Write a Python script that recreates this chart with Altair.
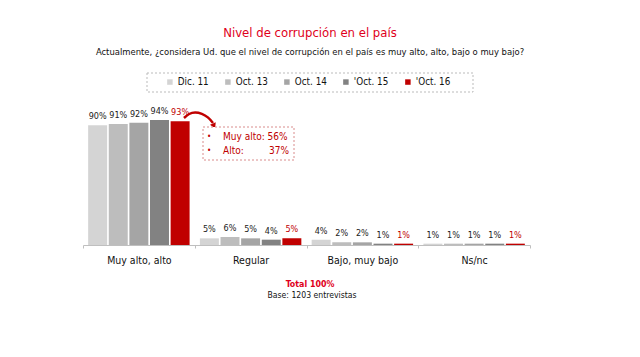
import altair as alt
import pandas as pd

groups = ["Muy alto, alto", "Regular", "Bajo, muy bajo", "Ns/nc"]
series = ["Dic. 11", "Oct. 13", "Oct. 14", "'Oct. 15", "'Oct. 16"]
colors = ["#D4D4D4", "#BDBDBD", "#A5A5A5", "#828282", "#C00000"]
values = {
    "Dic. 11": [90, 5, 4, 1],
    "Oct. 13": [91, 6, 2, 1],
    "Oct. 14": [92, 5, 2, 1],
    "'Oct. 15": [94, 4, 1, 1],
    "'Oct. 16": [93, 5, 1, 1],
}
title_text = "Nivel de corrupción en el país"
subtitle_text = "Actualmente, ¿considera Ud. que el nivel de corrupción en el país es muy alto, alto, bajo o muy bajo?"
note_lines = ["Muy alto: 56%", "Alto:"]
note_alto_val = "37%"
footer1 = "Total 100%"
footer2 = "Base:  1203 entrevistas"

# arrow path (annotation, pixel space)
arrow_x = [101, 106, 112, 119, 125, 130]
arrow_y = [6, 1.5, 0, 1.5, 5, 11]

FONT = "DejaVu Sans Condensed"
RED = "#C00000"

rows = []
for s in series:
    for g, v in zip(groups, values[s]):
        rows.append({"grupo": g, "serie": s, "valor": v, "label": f"{v}%"})
df = pd.DataFrame(rows)

base = alt.Chart(df).encode(
    x=alt.X("grupo:N", sort=groups,
            scale=alt.Scale(paddingInner=0, paddingOuter=0),
            axis=alt.Axis(title=None, labelAngle=0, tickBand="extent",
                          domainColor="#BFBFBF", tickColor="#BFBFBF", tickSize=3,
                          labelFontSize=10.5, labelFont=FONT, labelColor="#111",
                          labelPadding=7, grid=False)),
    xOffset=alt.XOffset("serie:N", sort=series,
                        scale=alt.Scale(paddingInner=0.08, paddingOuter=0.25)),
    y=alt.Y("valor:Q", scale=alt.Scale(domain=[0, 100]), axis=None),
)

bars = base.mark_bar().encode(
    color=alt.Color("serie:N", sort=series,
                    scale=alt.Scale(domain=series, range=colors),
                    legend=alt.Legend(title=None, orient="none", direction="horizontal",
                                      legendX=82, legendY=-35,
                                      symbolType="square", symbolSize=30,
                                      symbolStrokeWidth=0, labelFont=FONT,
                                      labelFontSize=9.8, labelColor="#111",
                                      labelOffset=3, columnPadding=14, padding=0))
)

labels = base.mark_text(baseline="bottom", dy=-4, font=FONT, fontSize=9).encode(
    text="label:N",
    color=alt.condition(alt.datum.serie == "'Oct. 16", alt.value(RED), alt.value("#222")),
)

arrow_df = pd.DataFrame({"x": arrow_x, "y": arrow_y, "o": list(range(len(arrow_x)))})
arrow = alt.Chart(arrow_df).mark_line(color=RED, strokeWidth=2.5, interpolate="basis").encode(
    x=alt.X("x:Q", scale=None, axis=None),
    y=alt.Y("y:Q", scale=None, axis=None),
    order="o:Q",
)
head = alt.Chart(pd.DataFrame({"x": [131], "y": [14]})).mark_point(
    shape="triangle-down", filled=True, color=RED, size=40, opacity=1, angle=335
).encode(x=alt.X("x:Q", scale=None, axis=None), y=alt.Y("y:Q", scale=None, axis=None))

one = alt.Chart(pd.DataFrame({"a": [0]}))

title = one.mark_text(font=FONT, fontSize=13, color="#E0001B", align="center").encode(
    x=alt.value(227), y=alt.value(-79), text=alt.value(title_text))
subtitle = one.mark_text(font=FONT, fontSize=9.4, color="#111", align="center").encode(
    x=alt.value(227), y=alt.value(-60), text=alt.value(subtitle_text))
legend_box = one.mark_rect(fill=None, fillOpacity=0, stroke="#BBBBBB", strokeDash=[2, 2],
                           strokeWidth=1).encode(
    x=alt.value(64), x2=alt.value(390), y=alt.value(-39), y2=alt.value(-20))

note_box = one.mark_rect(fill="white", stroke="#D98C8C", strokeDash=[2, 2], strokeWidth=1).encode(
    x=alt.value(120), x2=alt.value(211), y=alt.value(15), y2=alt.value(48))
b1 = one.mark_text(font=FONT, fontSize=8, color=RED, align="center").encode(
    x=alt.value(126), y=alt.value(25), text=alt.value("•"))
b2 = one.mark_text(font=FONT, fontSize=8, color=RED, align="center").encode(
    x=alt.value(126), y=alt.value(39), text=alt.value("•"))
n1 = one.mark_text(font=FONT, fontSize=10, color=RED, align="left").encode(
    x=alt.value(140), y=alt.value(25), text=alt.value(note_lines[0]))
n2 = one.mark_text(font=FONT, fontSize=10, color=RED, align="left").encode(
    x=alt.value(140), y=alt.value(39), text=alt.value(note_lines[1]))
n3 = one.mark_text(font=FONT, fontSize=10, color=RED, align="right").encode(
    x=alt.value(206), y=alt.value(39), text=alt.value(note_alto_val))

f1 = one.mark_text(font=FONT, fontSize=8.8, fontWeight="bold", color="#E0001B", align="center").encode(
    x=alt.value(227), y=alt.value(172), text=alt.value(footer1))
f2 = one.mark_text(font=FONT, fontSize=8.6, color="#111", align="center").encode(
    x=alt.value(229), y=alt.value(183), text=alt.value(footer2))

chart = alt.layer(
    alt.layer(bars, labels),
    arrow, head, note_box, b1, b2, n1, n2, n3,
    title, subtitle, legend_box, f1, f2,
).properties(
    width=447, height=133,
    autosize=alt.AutoSizeParams(type="none"),
    padding={"left": 83, "top": 112, "right": 110, "bottom": 112},
    background="white",
).configure_view(stroke=None)

chart.save("out.html", embed_options={"renderer": "svg", "actions": False})
